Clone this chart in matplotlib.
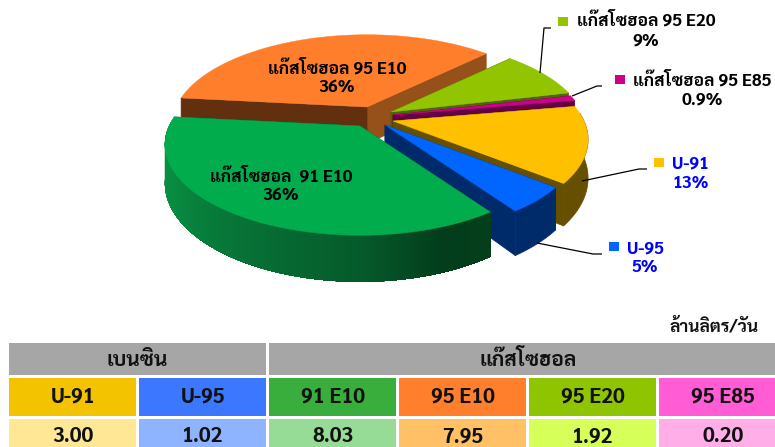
import numpy as np
import matplotlib
matplotlib.use("Agg")
import matplotlib.pyplot as plt
from matplotlib import font_manager as fm
from matplotlib.colors import to_rgb
from matplotlib.patches import Polygon, Rectangle

# ---------- data ----------
groups = ["เบนซิน", "แก๊สโซฮอล"]
group_spans = [2, 4]
products = ["U-91", "U-95", "91 E10", "95 E10", "95 E20", "95 E85"]
volumes = [3.00, 1.02, 8.03, 7.95, 1.92, 0.20]
volume_labels = ["3.00", "1.02", "8.03", "7.95", "1.92", "0.20"]
unit = "ล้านลิตร/วัน"
pie_names = ["U-91", "U-95", "แก๊สโซฮอล  91 E10", "แก๊สโซฮอล 95 E10", "แก๊สโซฮอล 95 E20", "แก๊สโซฮอล 95 E85"]
pie_percent = ["13%", "5%", "36%", "36%", "9%", "0.9%"]

# ---------- style ----------
installed = {f.name for f in fm.fontManager.ttflist}
thai = next((n for n in ["Sarabun", "Noto Sans Thai", "Krub", "Maitree"] if n in installed), "DejaVu Sans")
FAM = [thai, "DejaVu Sans"]
top_colors = ["#ffc000", "#0066ff", "#00ac4c", "#ff7e2b", "#92c500", "#cc0089"]
head_colors = ["#f3c300", "#3b78ff", "#39ae3c", "#ff7f2d", "#8fc400", "#ff5cd6"]
cell_colors = ["#ffe796", "#8fb4ff", "#96dc96", "#ffc066", "#d6ff5a", "#ffaee8"]
rim_colors = ["#665000", "#002b6b", "#05702f", "#96501a", "#4d6600", "#660044"]
# (face at the slice's larger angle, face at its smaller angle)
face_colors = [("#665000", "#665000"), ("#002b6b", "#002b6b"), ("#04602c", "#04602c"),
               ("#63300f", "#96501a"), ("#4d6600", "#4d6600"), ("#660044", "#660044")]
apex_offset = [(393, 121), (385, 125), (360, 126), (367, 107), (391, 112), (393, 115)]
draw_order = [3, 4, 5, 0, 1, 2]
A, B, K, DEPTH = 191.0, 87.0, 0.204, 37.0
START = 10.0
RIM_SIN_LIMIT = 0.09
green_stops = [(-186, "#0a9a48"), (-150, "#088a40"), (-120, "#077236"), (-90, "#055a2a"),
               (-70, "#033d1c"), (-55, "#043f1b")]


def project(cx, cy, deg, drop=0.0):
    t = np.radians(deg)
    s, c = np.sin(t), np.cos(t)
    f = 1.0 / (1.0 + K * s)
    return cx + A * c * f, cy - B * s * f + drop * f


def green_rim(deg):
    xs = [p[0] for p in green_stops]
    rgb = np.array([to_rgb(p[1]) for p in green_stops])
    return tuple(np.interp(deg, xs, rgb[:, i]) for i in range(3))


def band(cx, cy, ds):
    return [project(cx, cy, d) for d in ds] + [project(cx, cy, d, drop=DEPTH) for d in ds[::-1]]


fig = plt.figure(figsize=(7.75, 4.47), dpi=100)
ax = fig.add_axes([0, 0, 1, 1])
ax.set_xlim(0, 775)
ax.set_ylim(447, 0)
ax.axis("off")

# ---------- exploded 3-D pie, angles from the volumes ----------
shares = np.array(volumes) / np.sum(volumes) * 360.0
ends = START - np.cumsum(shares)
starts = ends + shares

for i in draw_order:
    z = 2 + draw_order.index(i)
    cx, cy = apex_offset[i]
    a0, a1 = ends[i], starts[i]
    apex_top = (cx, cy)
    apex_bot = (cx, cy + DEPTH)
    # radial cut faces
    p1, p1b = project(cx, cy, a1), project(cx, cy, a1, drop=DEPTH)
    p0, p0b = project(cx, cy, a0), project(cx, cy, a0, drop=DEPTH)
    ax.add_patch(Polygon([apex_top, p0, p0b, apex_bot], fc=face_colors[i][1], ec=face_colors[i][1], lw=0.5, zorder=z))
    ax.add_patch(Polygon([apex_top, p1, p1b, apex_bot], fc=face_colors[i][0], ec=face_colors[i][0], lw=0.5, zorder=z))
    # outer rim, only where it faces the viewer
    ds = np.linspace(a0, a1, 300)
    ds = ds[np.sin(np.radians(ds)) <= RIM_SIN_LIMIT]
    if ds.size > 1:
        if i == 2:
            # overlapping bands: each one paints over the rest of the rim
            for n in range(0, ds.size - 1, 2):
                ax.add_patch(Polygon(band(cx, cy, ds[n:]), fc=green_rim(ds[n]), ec="none", zorder=z))
        else:
            ax.add_patch(Polygon(band(cx, cy, ds), fc=rim_colors[i], ec=rim_colors[i], lw=0.5, zorder=z))
    # top surface
    arc = [project(cx, cy, d) for d in np.linspace(a0, a1, 160)]
    ax.add_patch(Polygon([apex_top] + arc, fc=top_colors[i], ec=top_colors[i], lw=0.3, zorder=z))

# ---------- leader lines ----------
leaders = [
    [(582, 181), (639, 169), (647, 169)],
    [(537, 243), (593, 254), (602, 254)],
    [(540, 73), (544, 28), (551, 28)],
    [(572, 96), (597, 86), (602, 86)],
]
for pts in leaders:
    xs, ys = zip(*pts)
    ax.plot(xs, ys, color="black", lw=0.9, zorder=20, solid_capstyle="butt")

# ---------- legend keys and labels ----------
keys = {0: (654, 158), 1: (609, 242), 4: (558, 17), 5: (615, 75)}
for i, (x, y) in keys.items():
    ax.add_patch(Rectangle((x, y), 10, 9, fc=top_colors[i], ec="none", zorder=20))

LABEL = dict(family=FAM, fontweight="bold", fontsize=12.5, va="center", zorder=21)
label_pos = [
    (672, 164, 672, 183, "left", "left", "#0000ff"),
    (645, 249, 645, 268, "center", "center", "#0000ff"),
    (281, 177, 281, 196, "center", "center", "black"),
    (337, 69, 337, 88, "center", "center", "black"),
    (646, 21, 646, 41, "center", "center", "black"),
    (702, 81, 702, 100, "center", "center", "black"),
]
for name, pct, (x1, y1, x2, y2, h1, h2, col) in zip(pie_names, pie_percent, label_pos):
    ax.text(x1, y1, name, ha=h1, color=col, **LABEL)
    ax.text(x2, y2, pct, ha=h2, color=col, **LABEL)

# ---------- table ----------
ax.text(759, 327, unit, ha="right", va="center", family=FAM, fontweight="bold", fontsize=12.5, color="#111111")
X0, CW, GAP = 9.0, 127.3, 2.7
col_x = [X0 + k * (CW + GAP) for k in range(len(products))]
HEAD = dict(family=FAM, fontweight="bold", va="center", ha="center", color="#111111", fontsize=15)

k = 0
for g, span in zip(groups, group_spans):
    x = col_x[k]
    w = span * CW + (span - 1) * GAP
    ax.add_patch(Rectangle((x, 343), w, 32, fc="#a6a6a6", ec="none"))
    ax.text(x + w / 2, 360, g, **HEAD)
    k += span
for x, name, hc, cc, val in zip(col_x, products, head_colors, cell_colors, volume_labels):
    ax.add_patch(Rectangle((x, 378), CW, 38, fc=hc, ec="none"))
    ax.text(x + CW / 2, 397.5, name, **HEAD)
    ax.add_patch(Rectangle((x, 419), CW, 30, fc=cc, ec="none"))
    ax.text(x + CW / 2, 437, val, **HEAD)

fig.savefig("out.png", dpi=100)
